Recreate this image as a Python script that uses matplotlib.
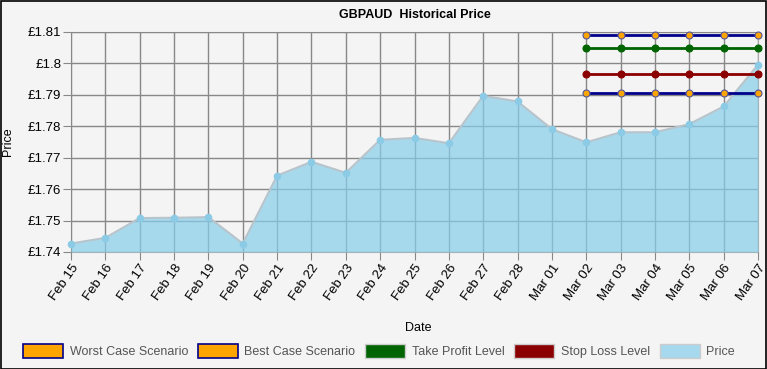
import matplotlib
matplotlib.use("Agg")
import matplotlib.pyplot as plt
from matplotlib.patches import Patch, Rectangle
import numpy as np

plt.rcParams['font.family'] = ['Liberation Sans', 'DejaVu Sans']

dates = ["Feb 15", "Feb 16", "Feb 17", "Feb 18", "Feb 19", "Feb 20", "Feb 21",
         "Feb 22", "Feb 23", "Feb 24", "Feb 25", "Feb 26", "Feb 27", "Feb 28",
         "Mar 01", "Mar 02", "Mar 03", "Mar 04", "Mar 05", "Mar 06", "Mar 07"]
price = [1.7427, 1.7445, 1.7508, 1.7509, 1.7511, 1.7427, 1.7643, 1.7687, 1.7652,
         1.7757, 1.7763, 1.7746, 1.7897, 1.7879, 1.7791, 1.7749, 1.7781, 1.7781,
         1.7807, 1.7863, 1.7996]
level_start = "Mar 02"
best_case = 1.8090
take_profit = 1.8050
stop_loss = 1.7965
worst_case = 1.7905
yticks = [1.74, 1.75, 1.76, 1.77, 1.78, 1.79, 1.80, 1.81]
ytick_labels = ["£1.74", "£1.75", "£1.76", "£1.77", "£1.78", "£1.79", "£1.8", "£1.81"]

W, H = 767, 369
fig = plt.figure(figsize=(W / 100, H / 100), dpi=100)
bg = '#f4f4f4'
fig.patch.set_facecolor(bg)
fig.add_artist(Rectangle((0.5 / W, 0.5 / H), 1 - 1.5 / W, 1 - 1.5 / H, transform=fig.transFigure,
                         fill=False, edgecolor='black', linewidth=1.2))

x0, x1, ytop, ybot = 71, 758, 32, 252
ax = fig.add_axes([x0 / W, 1 - ybot / H, (x1 - x0) / W, (ybot - ytop) / H])
ax.set_facecolor(bg)

x = np.arange(len(dates))
ax.fill_between(x, price, 1.74, color='#87ceeb', alpha=0.7, linewidth=0, zorder=3)
ax.plot(x, price, color='#b8c4cc', linewidth=1.5, zorder=4)
ax.plot(x, price, 'o', color='#8ccbe6', markersize=4.5, zorder=5, clip_on=False)

i0 = dates.index(level_start)
xs = x[i0:]
for val, lc, mfc in [(best_case, '#00008b', 'orange'), (take_profit, '#006400', '#006400'),
                     (stop_loss, '#8b0000', '#8b0000'), (worst_case, '#00008b', 'orange')]:
    ax.plot(xs, [val] * len(xs), color=lc, linewidth=2, zorder=6, clip_on=False)
    ax.plot(xs, [val] * len(xs), 'o', markerfacecolor=mfc, markeredgecolor='#555599' if mfc == 'orange' else mfc,
            markersize=5, markeredgewidth=0.8, zorder=7, clip_on=False)

ax.set_xlim(0, len(dates) - 1)
ax.set_ylim(1.74, 1.81)
ax.set_xticks(x)
ax.set_xticklabels(dates, rotation=55, ha='right', rotation_mode='anchor', fontsize=9.5)
ax.set_yticks(yticks)
ax.set_yticklabels(ytick_labels, fontsize=9.5)
ax.grid(True, color='#888888', linewidth=1, zorder=1)
ax.set_axisbelow(False)
for s in ax.spines.values():
    s.set_color('#aaaaaa')
ax.tick_params(axis='both', length=6, color='#888888', pad=1)

fig.text((x0 + x1) / 2 / W, 1 - 15 / H, "GBPAUD  Historical Price", ha='center', va='center',
         fontsize=9, fontweight='bold')
fig.text(8 / W, 1 - 142 / H, "Price", rotation=90, ha='center', va='center', fontsize=9)
fig.text(418 / W, 1 - 328 / H, "Date", ha='center', va='center', fontsize=9)

handles = [Patch(facecolor='orange', edgecolor='#00008b', linewidth=1.2),
           Patch(facecolor='orange', edgecolor='#00008b', linewidth=1.2),
           Patch(facecolor='#006400', edgecolor='#cccccc'),
           Patch(facecolor='#8b0000', edgecolor='#cccccc'),
           Patch(facecolor='#a6d8ee', edgecolor='#cccccc')]
labels = ["Worst Case Scenario", "Best Case Scenario", "Take Profit Level", "Stop Loss Level", "Price"]
leg = fig.legend(handles, labels, loc='center', bbox_to_anchor=(379 / W, 1 - 351 / H), ncol=5,
                 frameon=False, fontsize=9, handlelength=3.2, handleheight=1.3,
                 columnspacing=0.8, handletextpad=0.5)
for t in leg.get_texts():
    t.set_color('#555555')
    t.set_fontstretch('condensed')
    t.set_family(['Liberation Sans Narrow', 'Liberation Sans', 'DejaVu Sans'])

fig.savefig("out.png", dpi=100, facecolor=bg)
